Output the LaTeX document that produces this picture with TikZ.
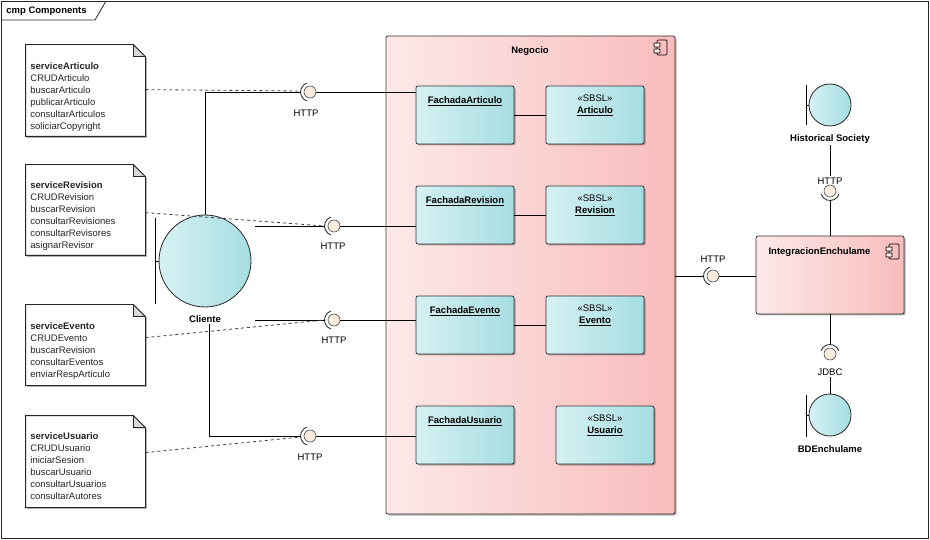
\documentclass[tikz,border=0pt]{standalone}
\usepackage{fontspec}
\setmainfont{Liberation Sans}
\usetikzlibrary{calc,shadows}
\definecolor{cyanL}{RGB}{214,241,243}
\definecolor{cyanR}{RGB}{166,221,226}
\definecolor{pinkL}{RGB}{253,233,233}
\definecolor{pinkR}{RGB}{248,188,188}
\definecolor{ballc}{RGB}{250,237,222}
\newcommand\mynote[1]{%
  \draw[shad,fill=white,draw=black!85] (#1.north west) -- ($(#1.north east)+(-12,0)$) -- ($(#1.north east)+(0,12)$) -- (#1.south east) -- (#1.south west) -- cycle;
  \draw[draw=black!85,fill=black!15,line join=round] ($(#1.north east)+(-12,0)$) -- ($(#1.north east)+(-12,12)$) -- ($(#1.north east)+(0,12)$) -- cycle;}
\newcommand\sockL[1]{\draw[sock] ($(#1)+(110:9.5)$) arc[start angle=110,end angle=250,radius=9.5];}
\begin{document}
\begin{tikzpicture}[x=1pt,y=-1pt,
  font=\fontsize{9.5}{12}\selectfont,
  line width=0.8pt,
  shad/.style={drop shadow={shadow xshift=1.5pt,shadow yshift=-1.5pt,opacity=0.3,fill=black}},
  cls/.style={draw=black!80,rounded corners=2pt,left color=cyanL,right color=cyanR,minimum width=98pt,minimum height=58pt,shad},
  comp/.style={draw=black!80,rounded corners=2pt,left color=pinkL,right color=pinkR,shad},
  bnd/.style={circle,draw=black!85,left color=cyanL,right color=cyanR,inner sep=0pt},
  ball/.style={circle,draw=black!70,fill=ballc,minimum size=12pt,inner sep=0pt,line width=0.6pt},
  sock/.style={draw=black!80,line width=0.9pt},
  lbl/.style={inner sep=1pt},
  ttl/.style={inner sep=1pt,font=\fontsize{9.5}{12}\selectfont\bfseries},
  notebox/.style={minimum width=119pt,inner sep=0pt},
  notetxt/.style={align=left,anchor=north west,inner sep=0pt,text=black!85},
  dep/.style={dash pattern=on 3pt off 3pt,draw=black!75},
  conn/.style={draw=black},
  compicon/.pic={
    \draw[line width=0.7pt,rounded corners=1pt] (0,0) rectangle (10,15);
    \draw[line width=0.7pt,fill=pinkL,rounded corners=0.5pt] (-3,3) rectangle (3,7);
    \draw[line width=0.7pt,fill=pinkL,rounded corners=0.5pt] (-3,9) rectangle (3,13);
  },
]
\useasboundingbox (0,0) rectangle (930,540);
\fill[white] (0,0) rectangle (930,540);
% frame
\draw[black!85] (1,1) rectangle (928,538);
\draw[black!85] (1,20) -- (95,20) -- (106,1);
\node[ttl,anchor=west] (frt) at (5,11) {cmp Components};

% notes
\node[notebox,minimum height=91pt] (n1) at (85.5,90.5) {};
\mynote{n1}
\node[notetxt] (t1) at (30,62.5) {\textbf{serviceArticulo}\\CRUDArticulo\\buscarArticulo\\publicarArticulo\\consultarArticulos\\soliciarCopyright};
\node[notebox,minimum height=90pt] (n2) at (85.5,210) {};
\mynote{n2}
\node[notetxt] (t2) at (30,181.5) {\textbf{serviceRevision}\\CRUDRevision\\buscarRevision\\consultarRevisiones\\consultarRevisores\\asignarRevisor};
\node[notebox,minimum height=80pt] (n3) at (85.5,345) {};
\mynote{n3}
\node[notetxt] (t3) at (30,322.5) {\textbf{serviceEvento}\\CRUDEvento\\buscarRevision\\consultarEventos\\enviarRespArticulo};
\node[notebox,minimum height=91pt] (n4) at (85.5,461.5) {};
\mynote{n4}
\node[notetxt] (t4) at (30,432.5) {\textbf{serviceUsuario}\\CRUDUsuario\\iniciarSesion\\buscarUsuario\\consultarUsuarios\\consultarAutores};

% Negocio
\node[comp,minimum width=289pt,minimum height=478pt] (neg) at (530.5,275) {};
\node[ttl] (negt) at (530,51) {Negocio};
\pic at (657,40) {compicon};

\node[cls] (fa) at (465,115) {};
\node[ttl] (fat) at (465,101) {\underline{FachadaArticulo}};
\node[cls] (sa) at (595,115) {};
\node[lbl,align=center] (sat) at (595,105) {«SBSL»\\\textbf{\underline{Articulo}}};
\node[cls] (fr) at (465,215) {};
\node[ttl] (frt) at (465,201) {\underline{FachadaRevision}};
\node[cls] (sr) at (595,215) {};
\node[lbl,align=center] (srt) at (595,205) {«SBSL»\\\textbf{\underline{Revision}}};
\node[cls] (fe) at (465,325) {};
\node[ttl] (fet) at (465,311) {\underline{FachadaEvento}};
\node[cls] (se) at (595,325) {};
\node[lbl,align=center] (set) at (595,315) {«SBSL»\\\textbf{\underline{Evento}}};
\node[cls] (fu) at (465,435) {};
\node[ttl] (fut) at (465,421) {\underline{FachadaUsuario}};
\node[cls] (su) at (605,435) {};
\node[lbl,align=center] (sut) at (605,425) {«SBSL»\\\textbf{\underline{Usuario}}};

\draw[conn] (fa) -- (sa);
\draw[conn] (fr) -- (sr);
\draw[conn] (fe) -- (se);

% Cliente
\node[bnd,minimum size=92pt] (cli) at (205,261) {};
\draw[conn] (155,218) -- (155,304);
\draw[conn] (155,261) -- (cli.west);
\node[ttl] (clil) at (205,319) {Cliente};
\coordinate (ce) at ([xshift=4pt]cli.east);

% interfaces left
\node[ball] (b1) at (310,92) {};
\sockL{b1}
\coordinate (s1) at ($(b1)+(-9.5,0)$);
\node[lbl] (l1) at (306,113) {HTTP};
\node[ball] (b2) at (334,226) {};
\sockL{b2}
\coordinate (s2) at ($(b2)+(-9.5,0)$);
\node[lbl] (l2) at (333,246) {HTTP};
\node[ball] (b3) at (334,320) {};
\sockL{b3}
\coordinate (s3) at ($(b3)+(-9.5,0)$);
\node[lbl] (l3) at (334,340) {HTTP};
\node[ball] (b4) at (310,436) {};
\sockL{b4}
\coordinate (s4) at ($(b4)+(-9.5,0)$);
\node[lbl] (l4) at (310,457) {HTTP};

\draw[conn] (cli.north) |- (s1);
\draw[conn] (b1) -- (b1 -| fa.west);
\draw[dep] ($(n1.north east)+(0,45)$) -- ($(s1)+(0,-1)$);
\draw[conn] (ce |- s2) -- (s2);
\draw[conn] (b2) -- (b2 -| fr.west);
\draw[dep] ($(n2.north east)+(0,48)$) -- (s2);
\draw[conn] (ce |- s3) -- (s3);
\draw[conn] (b3) -- (b3 -| fe.west);
\draw[dep] ($(n3.north east)+(0,33)$) -- (s3);
\draw[conn] ([xshift=4pt]clil.south) |- (s4);
\draw[conn] (b4) -- (b4 -| fu.west);
\draw[dep] ($(n4.north east)+(0,37)$) -- ($(s4)+(0,1)$);

% right side
\node[comp,minimum width=148pt,minimum height=78pt] (ie) at (830,275) {};
\node[ttl] (iet) at (819.5,252) {IntegracionEnchulame};
\pic at (889,244) {compicon};

\node[ball] (b5) at (713,276) {};
\sockL{b5}
\coordinate (s5) at ($(b5)+(-9.5,0)$);
\node[lbl] (l5) at (713,259) {HTTP};
\draw[conn] (neg.east |- s5) -- (s5);
\draw[conn] (b5) -- (b5 -| ie.west);

\node[bnd,minimum size=42pt] (hs) at (830,105) {};
\draw[conn] (806,85) -- (806,125);
\draw[conn] (806,105) -- (hs.west);
\node[ttl] (hsl) at (830,139) {Historical Society};
\node[ball] (b6) at (830,191) {};
\draw[sock] ($(b6)+(20:9.5)$) arc[start angle=20,end angle=160,radius=9.5];
\node[lbl] (l6) at (830,181) {HTTP};
\draw[conn] (hsl.south) -- (l6.north);
\draw[conn] ($(b6)+(0,9.5)$) -- (ie.north);

\node[ball] (b7) at (830,354) {};
\draw[sock] ($(b7)+(200:9.5)$) arc[start angle=200,end angle=340,radius=9.5];
\node[lbl] (l7) at (830,372) {JDBC};
\draw[conn] (ie.south) -- ($(b7)+(0,-9.5)$);
\node[bnd,minimum size=42pt] (bd) at (830,415) {};
\draw[conn] (806,395) -- (806,437);
\draw[conn] (806,415) -- (bd.west);
\draw[conn] (l7.south) -- (bd.north);
\node[ttl] (bdl) at (830,449) {BDEnchulame};
\end{tikzpicture}
\end{document}
